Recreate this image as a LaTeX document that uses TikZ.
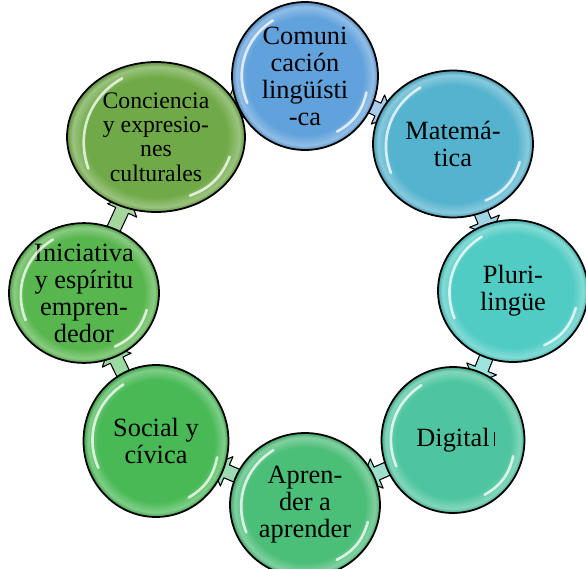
\documentclass[tikz,border=0pt]{standalone}
\usepackage{fontspec}
\setmainfont{Liberation Serif}
\usetikzlibrary{shapes.geometric,calc,backgrounds}

\definecolor{comcol}{HTML}{62A2DC}
\definecolor{matcol}{HTML}{54B3CE}
\definecolor{plucol}{HTML}{50CCC4}
\definecolor{digcol}{HTML}{4EC5A0}
\definecolor{aprcol}{HTML}{4BBE78}
\definecolor{soccol}{HTML}{48B955}
\definecolor{inicol}{HTML}{58B64E}
\definecolor{concol}{HTML}{70AA48}

% lighter rim just inside the border
\pgfdeclareradialshading[base]{glossy}{\pgfpoint{0bp}{0bp}}{color(0bp)=(base); color(20bp)=(base); color(23.5bp)=(base!70!white); color(25bp)=(base!85!black); color(50bp)=(base!85!black)}

\begin{document}
\begin{tikzpicture}[x=0.02cm,y=-0.02cm,
	comp/.style={ellipse,draw,line width=1pt,inner sep=0pt,align=center,
		shade,shading=glossy,/utils/exec={\colorlet{base}{#1}},
		font=\fontsize{15}{15.4}\selectfont},
	conn/.style={draw,line width=.6pt,fill=#1!55!white,line join=round},
	gloss/.style={white,opacity=.75,line width=1.5pt,line cap=round}]
	\useasboundingbox (0,0) rectangle (586,569);
	\node[comp=comcol,minimum width=2.92cm,minimum height=2.96cm] (n1) at (305,76)	{Comuni\\cación\\lingüísti\\-ca};
	\node[comp=matcol,minimum width=3.2cm,minimum height=2.94cm] (n2) at (453,144)	{Matemá-\\tica};
	\node[comp=plucol,minimum width=3.0cm,minimum height=2.84cm] (n3) at (513,291)	{Pluri-\\lingüe};
	\node[comp=digcol,minimum width=2.86cm,minimum height=2.92cm] (n4) at (453,440)	{Digital\rlap{\,\rule{0.5pt}{0.55em}}};
	\node[comp=aprcol,minimum width=3.0cm,minimum height=2.88cm] (n5) at (305,505)	{Apren-\\der a\\aprender};
	\node[comp=soccol,minimum width=2.9cm,minimum height=3.04cm] (n6) at (156,441)	{Social y\\cívica};
	\node[comp=inicol,minimum width=3.0cm,minimum height=2.7cm] (n7) at (84,293)	{Iniciativa\\y espíritu\\empren-\\dedor};
	\node[comp=concol,minimum width=3.56cm,minimum height=3.0cm,font=\fontsize{13.5}{13.9}\selectfont] (n8) at (156,137)	{Conciencia\\y expresio-\\nes\\culturales};

	% block arrows, mostly hidden behind the circles
	\begin{scope}[on background layer]
	\foreach \a/\b/\c in {1/2/comcol,2/3/matcol,3/4/plucol,4/5/digcol,5/6/aprcol,6/7/soccol,7/8/inicol,8/1/concol}{
		\path (n\a) -- (n\b) coordinate[pos=0] (s) coordinate[pos=1] (e);
		\pgfmathanglebetweenpoints{\pgfpointanchor{s}{center}}{\pgfpointanchor{e}{center}}
		\let\ang\pgfmathresult
		\draw[conn=\c,shift={(e)},rotate=\ang] (-40,-7) -- (-3,-7) -- (-3,-16) -- (13,0) -- (-3,16) -- (-3,7) -- (-40,7) -- cycle;
	}
	\end{scope}

	\foreach \i in {1,...,8}{
		\draw[gloss] ($(n\i.center)!.86!(n\i.120)$) to[bend right=40] ($(n\i.center)!.86!(n\i.205)$);
		\draw[gloss] ($(n\i.center)!.86!(n\i.-15)$) to[bend left=24] ($(n\i.center)!.86!(n\i.-60)$);
	}
\end{tikzpicture}
\end{document}
